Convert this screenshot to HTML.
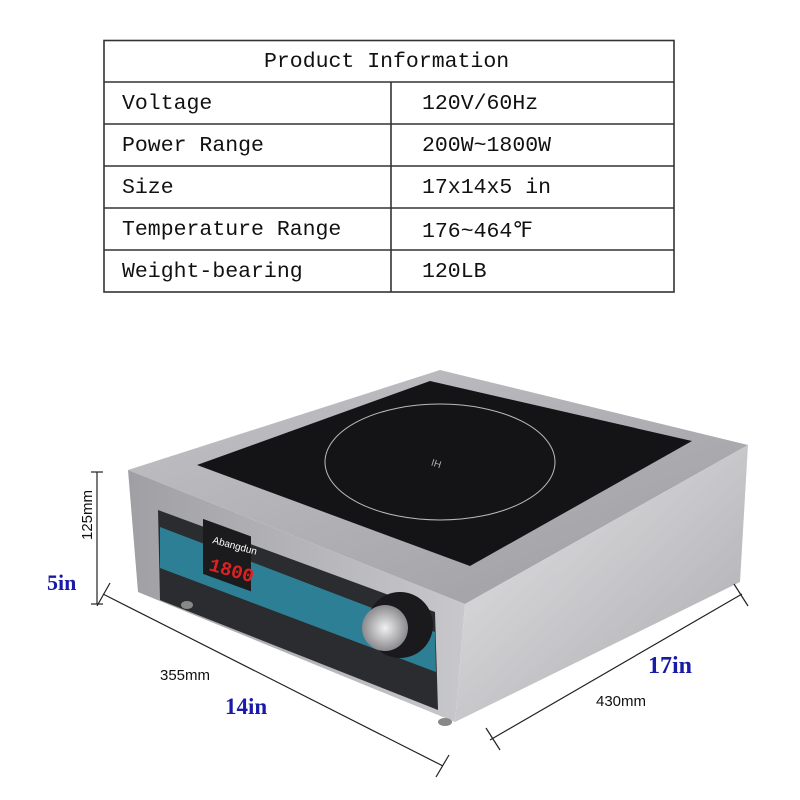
<!DOCTYPE html>
<html><head><style>
body{margin:0;background:#fff;width:800px;height:800px;overflow:hidden;position:relative;font-family:"Liberation Mono",monospace}
.t{position:absolute;font-size:21.5px;color:#111;white-space:pre}
</style></head><body>
<svg width="800" height="800" style="position:absolute;left:0;top:0">
<g stroke="#333" stroke-width="1.6" fill="none">
<rect x="104" y="40.5" width="570" height="251.5"/>
<line x1="104" y1="82" x2="674" y2="82"/>
<line x1="104" y1="124" x2="674" y2="124"/>
<line x1="104" y1="166" x2="674" y2="166"/>
<line x1="104" y1="208" x2="674" y2="208"/>
<line x1="104" y1="250" x2="674" y2="250"/>
<line x1="391" y1="82" x2="391" y2="292"/>
</g>
<defs>
<linearGradient id="side" x1="0" y1="0" x2="1" y2="1"><stop offset="0" stop-color="#e6e6e8"/><stop offset="1" stop-color="#a9a9ad"/></linearGradient>
<linearGradient id="top" x1="0" y1="0" x2="1" y2="1"><stop offset="0" stop-color="#c4c4c8"/><stop offset="1" stop-color="#9c9ca0"/></linearGradient>
<linearGradient id="front" x1="0" y1="0" x2="1" y2="0"><stop offset="0" stop-color="#a0a0a4"/><stop offset="1" stop-color="#c8c8cc"/></linearGradient>
<radialGradient id="knob"><stop offset="0" stop-color="#f0f0f0"/><stop offset="1" stop-color="#8a8a8e"/></radialGradient>
</defs>
<!-- body -->
<polygon points="128,470 440,370 748,445 465,604" fill="url(#top)"/>
<polygon points="128,470 465,604 455,722 138,592" fill="url(#front)"/>
<polygon points="465,604 748,445 740,582 455,722" fill="url(#side)"/>
<polygon points="197,465 430,381 692,441 470,566" fill="#141416"/>
<ellipse cx="440" cy="462" rx="115" ry="58" fill="none" stroke="#bbb" stroke-width="1"/>
<text x="432" y="468" fill="#aaa" font-size="10" font-family="Liberation Sans" transform="rotate(18 440 462)">IH</text>
<!-- control panel -->
<polygon points="158,510 435,612 438,710 160,600" fill="#2a2c30"/>
<polygon points="160,527 435,632 436,672 160,568" fill="#2d7f95"/>
<rect x="203" y="523" width="48" height="55" fill="#1b1b1d" transform="skewY(20) translate(0,-78)"/>
<text x="212" y="543" fill="#fff" font-size="10" font-family="Liberation Sans" transform="rotate(15 212 543)">Abangdun</text>
<text x="208" y="570" fill="#e02020" font-size="19" font-family="Liberation Mono" font-weight="bold" transform="rotate(16 208 570)">1800</text>
<circle cx="400" cy="625" r="33" fill="#1a1a1c"/>
<circle cx="385" cy="628" r="23" fill="url(#knob)"/>
<ellipse cx="187" cy="605" rx="6" ry="4" fill="#888"/>
<ellipse cx="445" cy="722" rx="7" ry="4" fill="#888"/>
<!-- dimension lines -->
<g stroke="#222" stroke-width="1.2">
<line x1="97" y1="472" x2="97" y2="604"/><line x1="91" y1="472" x2="103" y2="472"/><line x1="91" y1="604" x2="103" y2="604"/>
<line x1="103" y1="594" x2="443" y2="766"/><line x1="97" y1="606" x2="110" y2="583"/><line x1="436" y1="777" x2="449" y2="755"/>
<line x1="490" y1="740" x2="742" y2="594"/><line x1="486" y1="728" x2="500" y2="750"/><line x1="734" y1="584" x2="748" y2="606"/>
</g>
<text x="92" y="515" font-family="Liberation Sans" font-size="15" fill="#111" transform="rotate(-90 92 515)" text-anchor="middle">125mm</text>
<text x="47" y="590" font-family="Liberation Serif" font-weight="bold" font-size="22" fill="#1a1aa8">5in</text>
<text x="160" y="680" font-family="Liberation Sans" font-size="15" fill="#111">355mm</text>
<text x="225" y="714" font-family="Liberation Serif" font-weight="bold" font-size="23" fill="#1a1aa8">14in</text>
<text x="648" y="673" font-family="Liberation Serif" font-weight="bold" font-size="24" fill="#1a1aa8">17in</text>
<text x="596" y="706" font-family="Liberation Sans" font-size="15" fill="#111">430mm</text>
</svg>
<div class="t" style="left:264px;top:50px">Product Information</div>
<div class="t" style="left:122px;top:92px">Voltage</div>
<div class="t" style="left:422px;top:92px">120V/60Hz</div>
<div class="t" style="left:122px;top:134px">Power Range</div>
<div class="t" style="left:422px;top:134px">200W~1800W</div>
<div class="t" style="left:122px;top:176px">Size</div>
<div class="t" style="left:422px;top:176px">17x14x5 in</div>
<div class="t" style="left:122px;top:218px">Temperature Range</div>
<div class="t" style="left:422px;top:218px">176~464℉</div>
<div class="t" style="left:122px;top:260px">Weight-bearing</div>
<div class="t" style="left:422px;top:260px">120LB</div>
</body></html>
